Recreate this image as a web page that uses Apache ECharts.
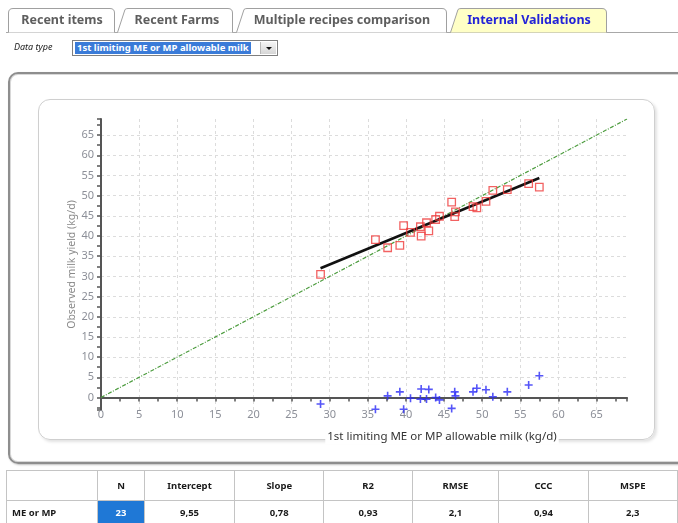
<!DOCTYPE html>
<html>
<head>
<meta charset="utf-8">
<script src="https://cdn.jsdelivr.net/npm/echarts@6/dist/echarts.min.js"></script>
<style>
  html, body { margin: 0; padding: 0; width: 678px; height: 523px; overflow: hidden; background: #fff; font-family: "Noto Sans", sans-serif; }
  #tabs { position: absolute; left: 0; top: 0; z-index: 3; }
  #tabs text { font-family: "Noto Sans", sans-serif; font-weight: bold; font-size: 12.5px; }
  #dtLabel { position: absolute; left: 14px; top: 40px; font-size: 9px; font-style: italic; color: #222; z-index: 3; }
  #dtBox { position: absolute; left: 72px; top: 40px; width: 204px; height: 14px; border: 1px solid #7f7f7f; background: #fff; z-index: 3; }
  #dtSel { position: absolute; left: 2px; top: 1px; height: 12px; line-height: 12px; padding: 0 2px; background: #3a7bd8; color: #fff; font-size: 9.5px; font-weight: bold; white-space: nowrap; }
  #dtBtn { position: absolute; right: 1px; top: 1px; width: 15px; height: 12px; background: linear-gradient(#f4f4f4, #d6d6d6); border-left: 1px solid #b8b8b8; }
  #dtBtn:after { content: ""; position: absolute; left: 5px; top: 5px; border-left: 3px solid transparent; border-right: 3px solid transparent; border-top: 3px solid #111; }
  #outer { position: absolute; left: 8px; top: 72px; width: 700px; height: 388px; border: 2px solid #8e8e8e; border-radius: 10px; box-shadow: inset 0 0 0 1px #d8d8d8, 1px 1px 2px rgba(0,0,0,0.25); z-index: 0; }
  #inner { position: absolute; left: 38px; top: 99px; width: 615px; height: 339px; border: 1.5px solid #cfcfcf; border-radius: 12px; box-shadow: 2px 2px 3px #e2e2e2; z-index: 0; }
  #chart { position: absolute; left: 0; top: 0; width: 678px; height: 523px; z-index: 1; }
  #stats { position: absolute; left: 6px; top: 470px; border-collapse: collapse; z-index: 3; table-layout: fixed; }
  #stats td { border: 1px solid #c4c4c4; font-size: 9.5px; font-weight: bold; color: #1a1a1a; text-align: center; padding: 0; white-space: nowrap; }
  #stats tr.h td { height: 29px; }
  #stats tr.r td { height: 22px; }
  #stats td.lab { text-align: left; padding-left: 5px; }
  #stats td.sel { background: #1f78d6; color: #fff; }
</style>
</head>
<body>
<svg id="tabs" width="678" height="36">
  <line x1="6" y1="32.5" x2="678" y2="32.5" stroke="#a8a8a8" stroke-width="1"/>
  <path d="M8.5 32.5 V13 Q8.5 8.5 13 8.5 H110 Q114.5 8.5 114.5 13 V32.5" fill="#fff" stroke="#a0a0a0"/>
  <path d="M117.5 32.5 L125 9.5 Q126 8.5 128 8.5 H228 Q232.5 8.5 232.5 13 V32.5" fill="#fff" stroke="#a0a0a0"/>
  <path d="M236.5 32.5 L244 9.5 Q245 8.5 247 8.5 H442 Q446.5 8.5 446.5 13 V32.5" fill="#fff" stroke="#a0a0a0"/>
  <path d="M450.5 32.5 L458 9.5 Q459 8.5 461 8.5 H602 Q606.5 8.5 606.5 13 V32.5" fill="#ffffc6" stroke="#a0a0a0"/>
  <text id="t1" x="62" y="24" text-anchor="middle" fill="#5e5e5e"></text>
  <text id="t2" x="177" y="24" text-anchor="middle" fill="#5e5e5e"></text>
  <text id="t3" x="342" y="24" text-anchor="middle" fill="#5e5e5e"></text>
  <text id="t4" x="529" y="24" text-anchor="middle" fill="#2323d8"></text>
</svg>
<div id="dtLabel">Data type</div>
<div id="dtBox"><div id="dtSel"></div><div id="dtBtn"></div></div>
<div id="outer"></div>
<div id="inner"></div>
<div id="chart"></div>
<table id="stats">
  <colgroup>
    <col style="width:92px"><col style="width:48px"><col style="width:91px"><col style="width:91px">
    <col style="width:90px"><col style="width:88px"><col style="width:91px"><col style="width:91px">
  </colgroup>
  <tr class="h" id="statHead"></tr>
  <tr class="r" id="statBody"></tr>
</table>
<script>
// Page texts
const tabNames = ['Recent items', 'Recent Farms', 'Multiple recipes comparison', 'Internal Validations'];
const dataTypeName = '1st limiting ME or MP allowable milk';
const xTitle = '1st limiting ME or MP allowable milk (kg/d)';
const yTitle = 'Observed milk yield (kg/d)';

// Validation statistics table
const statHeaders = ['', 'N', 'Intercept', 'Slope', 'R2', 'RMSE', 'CCC', 'MSPE'];
const statRow = ['ME or MP', '23', '9,55', '0,78', '0,93', '2,1', '0,94', '2,3'];

// Predicted (allowable) milk, kg/d
const predicted = [28.8, 36.0, 37.6, 39.2, 39.7, 40.6, 41.9, 42.0, 42.7, 43.0, 43.9,
                   44.4, 46.0, 46.5, 46.4, 48.8, 49.3, 50.5, 51.4, 53.3, 56.1, 57.5];
// Observed milk yield, kg/d
const observed = [30.5, 39.1, 37.1, 37.7, 42.6, 40.9, 42.3, 40.0, 43.3, 41.3, 44.1,
                  44.9, 48.4, 46.0, 44.8, 47.3, 47.0, 48.6, 51.3, 51.5, 53.0, 52.1];
// Residuals (predicted - observed), kg/d
const residuals = [-1.6, -2.9, 0.4, 1.4, -2.9, -0.2, -0.4, 2.1, -0.4, 2.0, 0.0,
                   -0.6, -2.7, 0.4, 1.4, 1.4, 2.3, 1.9, 0.2, 1.4, 3.1, 5.4];

// Axis ranges
const xRange = [0, 69];
const yRange = [-3.1, 69];

tabNames.forEach((t, i) => { document.getElementById('t' + (i + 1)).textContent = t; });
document.getElementById('dtSel').textContent = dataTypeName;

const head = document.getElementById('statHead');
statHeaders.forEach(h => { const td = document.createElement('td'); td.textContent = h; head.appendChild(td); });
const body = document.getElementById('statBody');
statRow.forEach((v, i) => {
  const td = document.createElement('td');
  td.textContent = v;
  if (i === 0) td.className = 'lab';
  if (i === 1) td.className = 'sel';
  body.appendChild(td);
});

const num = s => parseFloat(s.replace(',', '.'));
const intercept = num(statRow[2]);
const slope = num(statRow[3]);

const obsPoints = predicted.map((p, i) => [p, observed[i]]);
const resPoints = predicted.map((p, i) => [p, residuals[i]]);
const pMin = Math.min(...predicted), pMax = Math.max(...predicted);
const fitLine = [[pMin, intercept + slope * pMin], [pMax, intercept + slope * pMax]];
const identity = [[xRange[0], xRange[0]], [xRange[1], xRange[1]]];

const labelFmt = v => (Math.abs(v % 5) < 1e-9 ? String(v) : '');
const axisCommon = {
  type: 'value',
  minInterval: 5,
  maxInterval: 5,
  splitNumber: 14,
  axisLine: { show: true, lineStyle: { color: '#555', width: 2 } },
  axisTick: { show: true, length: 4, lineStyle: { color: '#555', width: 1.5 } },
  minorTick: { show: true, splitNumber: 2, length: 4, lineStyle: { color: '#555', width: 1.5 } },
  axisLabel: { color: '#8c8f98', fontSize: 11, fontFamily: 'Noto Sans', formatter: labelFmt, showMinLabel: true, showMaxLabel: true, hideOverlap: false },
  splitLine: { show: true, showMinLine: false, showMaxLine: false, lineStyle: { color: '#dcdcdc', type: [3, 3], width: 1 } }
};

const chart = echarts.init(document.getElementById('chart'), null, { renderer: 'canvas' });
chart.setOption({
  animation: false,
  backgroundColor: 'transparent',
  grid: { left: 101, right: 51, top: 119, bottom: 113, containLabel: false },
  xAxis: Object.assign({}, axisCommon, {
    min: xRange[0], max: xRange[1],
    axisLabel: Object.assign({}, axisCommon.axisLabel, { margin: -1 })
  }),
  yAxis: Object.assign({}, axisCommon, {
    min: yRange[0], max: yRange[1],
    name: yTitle, nameLocation: 'middle', nameGap: 23, nameRotate: 90, nameMoveOverlap: false,
    nameTextStyle: { color: '#8a8a8a', fontSize: 10.5, fontFamily: 'Noto Sans' },
    axisLabel: Object.assign({}, axisCommon.axisLabel, { margin: 7 })
  }),
  graphic: [{
    type: 'text', x: 442, y: 437, z: 10,
    style: {
      text: xTitle, align: 'center', verticalAlign: 'middle',
      fill: '#333', font: '11.5px "Noto Sans"', backgroundColor: '#fff', padding: [1, 2]
    }
  }],
  series: [
    {
      type: 'line', data: identity, symbol: 'none', z: 1,
      lineStyle: { color: '#4c9c3e', width: 1.2, type: [4, 1.5, 1, 1.5] }
    },
    {
      type: 'line', data: fitLine, symbol: 'none', z: 2,
      lineStyle: { color: '#111', width: 2.6 }
    },
    {
      type: 'scatter', data: obsPoints, symbol: 'rect', symbolSize: 7.5, z: 3,
      itemStyle: { color: 'rgba(0,0,0,0)', borderColor: '#ef3b3b', borderWidth: 1.3 }
    },
    {
      type: 'scatter', data: resPoints, symbol: 'path://M4,0H6V4H10V6H6V10H4V6H0V4H4Z', symbolSize: 8, z: 3,
      itemStyle: { color: '#2b2bf6' }
    }
  ]
});
</script>
</body>
</html>
